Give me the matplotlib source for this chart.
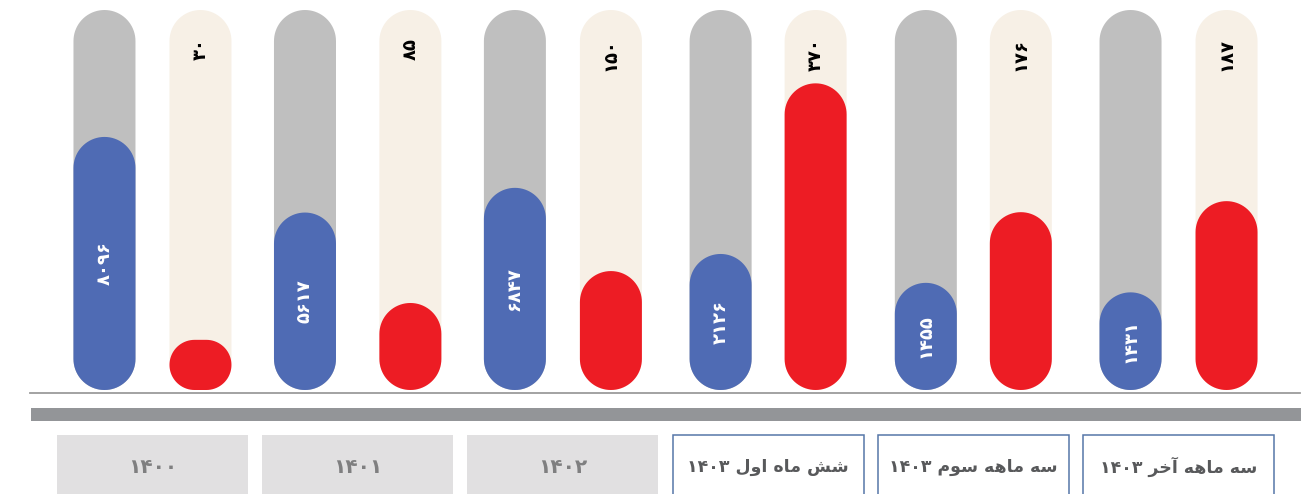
import numpy as np
import matplotlib
matplotlib.use('Agg')
import matplotlib.pyplot as plt
from matplotlib.patches import Polygon, Rectangle

periods = ['۱۴۰۰', '۱۴۰۱', '۱۴۰۲', 'شش ماه اول ۱۴۰۳', 'سه ماهه سوم ۱۴۰۳', 'سه ماهه آخر ۱۴۰۳']
blue_values = [8096, 5617, 6847, 2126, 1455, 1431]
red_values = [30, 85, 150, 370, 176, 187]
# filled share of each track (percent)
blue_fill = [66.6, 46.7, 53.2, 35.8, 28.2, 25.7]
red_fill = [13.2, 22.9, 31.3, 80.7, 46.8, 49.7]

BLUE, RED = '#4f6bb4', '#ed1c24'
GRAY_TRACK, BEIGE_TRACK = '#bfbfbf', '#f7f0e6'

# matplotlib has no arabic shaping -> pick presentation forms by hand
FORMS = {  # isolated, final, initial, medial
    'ا': ('\uFE8D', '\uFE8E', None, None),
    'آ': ('\uFE81', '\uFE82', None, None),
    'و': ('\uFEED', '\uFEEE', None, None),
    'ر': ('\uFEAD', '\uFEAE', None, None),
    'ل': ('\uFEDD', '\uFEDE', '\uFEDF', '\uFEE0'),
    'م': ('\uFEE1', '\uFEE2', '\uFEE3', '\uFEE4'),
    'ه': ('\uFEE9', '\uFEEA', '\uFEEB', '\uFEEC'),
    'س': ('\uFEB1', '\uFEB2', '\uFEB3', '\uFEB4'),
    'ش': ('\uFEB5', '\uFEB6', '\uFEB7', '\uFEB8'),
    'خ': ('\uFEA5', '\uFEA6', '\uFEA7', '\uFEA8'),
}

def shape_word(word):
    if not any(c in FORMS for c in word):
        return word
    out = []
    for i, c in enumerate(word):
        prev = word[i - 1] if i > 0 else None
        nxt = word[i + 1] if i < len(word) - 1 else None
        join_prev = prev in FORMS and FORMS[prev][2] is not None
        join_next = FORMS[c][2] is not None and nxt in FORMS
        f = FORMS[c]
        if join_prev and join_next:
            out.append(f[3])
        elif join_prev:
            out.append(f[1])
        elif join_next:
            out.append(f[2])
        else:
            out.append(f[0])
    return ''.join(reversed(out))

def rtl(text):
    return ' '.join(shape_word(w) for w in reversed(text.split(' ')))

def fa(n):
    return str(n).translate(str.maketrans('0123456789', '۰۱۲۳۴۵۶۷۸۹'))

W, H = 1315, 494
fig = plt.figure(figsize=(W / 100, H / 100), dpi=100)
xmin, xmax = -0.743, 5.665
sx = W / (xmax - xmin)      # px per x unit
sy = 380 / 100              # px per percent

ax = fig.add_axes([0, 104 / H, 1, 380 / H])
ax.set_xlim(xmin, xmax)
ax.set_ylim(0, 100)
ax.axis('off')

def capsule(xc, top, color):
    w = 62 / sx
    r = min(31, top * sy / 2)
    rx, ry = r / sx, r / sy
    l, rr = xc - w / 2, xc + w / 2
    pts = []
    for cx, cy, a0 in [(rr - rx, ry, -90), (rr - rx, top - ry, 0),
                       (l + rx, top - ry, 90), (l + rx, ry, 180)]:
        t = np.radians(np.linspace(a0, a0 + 90, 20))
        pts += list(zip(cx + rx * np.cos(t), cy + ry * np.sin(t)))
    ax.add_patch(Polygon(pts, closed=True, facecolor=color, edgecolor='none'))

# half distance between the two bars of a pair, px
pair_off = [48, 52.7, 48, 47.5, 47.5, 48]
for i in range(len(periods)):
    off = pair_off[i] / sx
    xb, xr = i - off, i + off
    capsule(xb, 100, GRAY_TRACK)
    capsule(xr, 100, BEIGE_TRACK)
    capsule(xb, blue_fill[i], BLUE)
    capsule(xr, red_fill[i], RED)
    ax.text(xb, blue_fill[i] / 2, fa(blue_values[i]), rotation=90, ha='center',
            va='center', color='white', fontsize=13, fontweight='bold')
    ax.text(xr, 92.6, fa(red_values[i]), rotation=90, ha='center', va='top',
            color='black', fontsize=13, fontweight='bold')

# lower part: baseline, band and period boxes
ax2 = fig.add_axes([0, 0, 1, 104 / H])
ax2.set_xlim(xmin, xmax)
ax2.set_ylim(104, 0)
ax2.axis('off')
ax2.plot([xmin + 30 / sx, xmin + 1300 / sx], [3, 3], color='#9b9b9b', lw=1.3)
ax2.add_patch(Rectangle((xmin + 31 / sx, 18), 1270 / sx, 13, color='#939598', lw=0))

bw = 191 / sx
for i, p in enumerate(periods):
    if i < 3:
        ax2.add_patch(Rectangle((i - bw / 2, 45), bw, 62, facecolor='#e1e0e1', edgecolor='none'))
        tc, fs = '#7f7f80', 14.5
    else:
        ax2.add_patch(Rectangle((i - bw / 2, 45), bw, 62, facecolor='white',
                                edgecolor='#5677a8', lw=1.1))
        tc, fs = '#58595b', 12.5
    ax2.text(i, 77, rtl(p), ha='center', va='center', color=tc, fontsize=fs,
             fontweight='bold')

fig.savefig('out.png', dpi=100)
